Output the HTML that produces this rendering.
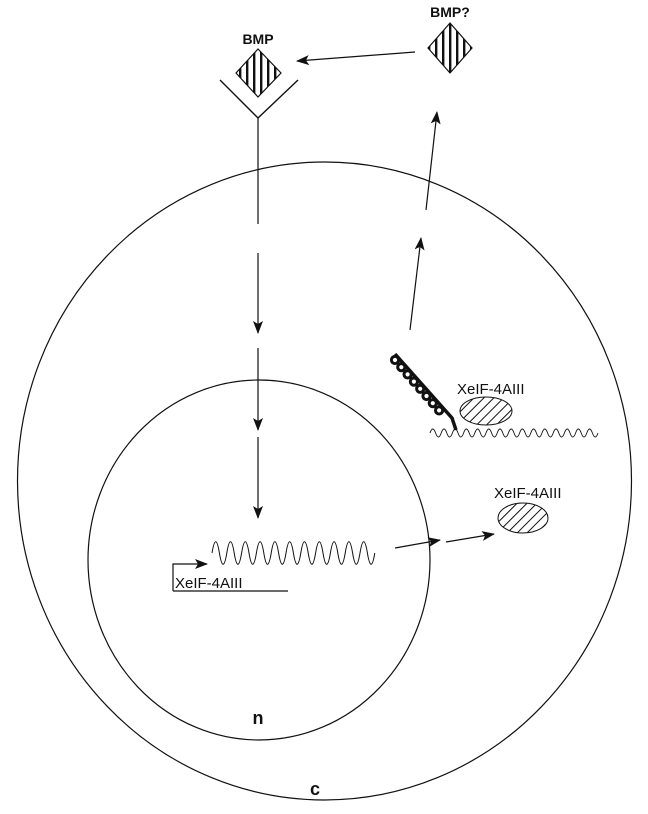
<!DOCTYPE html>
<html><head><style>body{margin:0;background:#fff}svg{display:block}</style></head><body>
<svg width="648" height="814" viewBox="0 0 648 814" xmlns="http://www.w3.org/2000/svg" font-family="Liberation Sans, sans-serif">
<defs>
<marker id="a" markerWidth="13" markerHeight="10" refX="12" refY="5" orient="auto" markerUnits="userSpaceOnUse"><path d="M0,0 L13,5 L0,10 L3,5z" fill="#111"/></marker>
<pattern id="v" width="7" height="7" patternUnits="userSpaceOnUse" x="1"><rect x="0" y="0" width="2.4" height="7" fill="#111"/></pattern>
<pattern id="d" width="7" height="7" patternUnits="userSpaceOnUse" patternTransform="rotate(45)"><rect x="0" y="0" width="1" height="7" fill="#111"/></pattern>
</defs>
<g fill="none" stroke="#111" stroke-width="1.2">
<ellipse cx="324.5" cy="481" rx="307" ry="319"/>
<ellipse cx="259" cy="560" rx="171" ry="180"/>
<path d="M220,80 L258,118 L298,80" stroke-width="1.4"/>
<line x1="258" y1="118" x2="258" y2="224"/>
<line x1="258" y1="253" x2="258" y2="333" marker-end="url(#a)"/>
<line x1="258" y1="348" x2="258" y2="430" marker-end="url(#a)"/>
<line x1="258" y1="437" x2="258" y2="518" marker-end="url(#a)"/>
<line x1="415" y1="52" x2="297" y2="61" marker-end="url(#a)"/>
<line x1="410" y1="330" x2="421" y2="238" marker-end="url(#a)"/>
<line x1="426" y1="210" x2="437" y2="112" marker-end="url(#a)"/>
<line x1="395" y1="548" x2="440" y2="540" marker-end="url(#a)"/>
<line x1="446" y1="542" x2="494" y2="534" marker-end="url(#a)"/>
<path d="M173,591 L173,564 L207,564" marker-end="url(#a)"/>
<line x1="173" y1="591" x2="288" y2="591"/>
<path d="M212,553 c2.5,-15 4.9,-15 7.4,0 c2.5,15 4.9,15 7.4,0 c2.5,-15 4.9,-15 7.4,0 c2.5,15 4.9,15 7.4,0 c2.5,-15 4.9,-15 7.4,0 c2.5,15 4.9,15 7.4,0 c2.5,-15 4.9,-15 7.4,0 c2.5,15 4.9,15 7.4,0 c2.5,-15 4.9,-15 7.4,0 c2.5,15 4.9,15 7.4,0 c2.5,-15 4.9,-15 7.4,0 c2.5,15 4.9,15 7.4,0 c2.5,-15 4.9,-15 7.4,0 c2.5,15 4.9,15 7.4,0 c2.5,-15 4.9,-15 7.4,0 c2.5,15 4.9,15 7.4,0 c2.5,-15 4.9,-15 7.4,0 c2.5,15 4.9,15 7.4,0 c2.5,-15 4.9,-15 7.4,0 c2.5,15 4.9,15 7.4,0 c2.5,-15 4.9,-15 7.4,0 c2.5,15 4.9,15 7.4,0" stroke-width="1"/>
<path d="M430,433 q2.8,-8 5.6,0 t5.6,0 t5.6,0 t5.6,0 t5.6,0 t5.6,0 t5.6,0 t5.6,0 t5.6,0 t5.6,0 t5.6,0 t5.6,0 t5.6,0 t5.6,0 t5.6,0 t5.6,0 t5.6,0 t5.6,0 t5.6,0 t5.6,0 t5.6,0 t5.6,0 t5.6,0 t5.6,0 t5.6,0 t5.6,0 t5.6,0 t5.6,0 t5.6,0 t5.6,0" stroke-width="0.9"/>
</g>
<polygon points="258,49 281,73 258,97 236,73" fill="url(#v)" stroke="#111" stroke-width="1.2"/>
<polygon points="450,23 472,48 450,73 428,48" fill="url(#v)" stroke="#111" stroke-width="1.2"/>
<ellipse cx="486" cy="411" rx="26" ry="14" fill="url(#d)" stroke="#111" stroke-width="1"/>
<ellipse cx="523" cy="518" rx="25" ry="15" fill="url(#d)" stroke="#111" stroke-width="1"/>
<g fill="none" stroke="#111" stroke-width="3">
<path d="M395,354 L452,418 L456,430" stroke-width="3.5"/>
<circle cx="395" cy="360" r="3.6"/>
<circle cx="401.3" cy="367.2" r="3.6"/>
<circle cx="407.6" cy="374.4" r="3.6"/>
<circle cx="413.9" cy="381.6" r="3.6"/>
<circle cx="420.2" cy="388.8" r="3.6"/>
<circle cx="426.5" cy="396" r="3.6"/>
<circle cx="432.8" cy="403.2" r="3.6"/>
<circle cx="439.1" cy="410.4" r="3.6"/>
</g>
<g fill="#111">
<text x="258" y="44" font-size="14" font-weight="bold" text-anchor="middle">BMP</text>
<text x="450" y="17" font-size="14" font-weight="bold" text-anchor="middle">BMP?</text>
<text x="457" y="394" font-size="15">XeIF-4AIII</text>
<text x="494" y="498" font-size="15">XeIF-4AIII</text>
<text x="175" y="588" font-size="15">XeIF-4AIII</text>
<text x="258" y="724" font-size="18" font-weight="bold" text-anchor="middle">n</text>
<text x="315" y="795" font-size="18" font-weight="bold" text-anchor="middle">c</text>
</g>
</svg>
</body></html>
